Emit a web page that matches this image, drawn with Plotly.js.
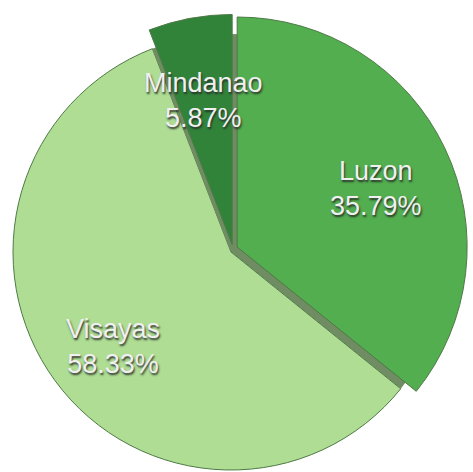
<!DOCTYPE html>
<html>
<head>
<meta charset="utf-8">
<script src="https://cdn.plot.ly/plotly-3.0.1.min.js"></script>
<style>html,body{margin:0;padding:0;background:#fff;overflow:hidden}#chart{position:absolute;left:-10px;top:0;width:493px;height:500px}</style>
</head>
<body>
<div id="chart"></div>
<script>
const regions = ["Luzon", "Visayas", "Mindanao"];
const shares = [35.79, 58.33, 5.87];
const sliceColors = ["#52ae4e", "#aedd93", "#31833a"];
const shadowColor = "#6f8c62";

// layout geometry (pixels in the 473x472 window)
const W = 493, H = 500, OFFX = 10;
const pulls = [0.02, 0, 0.02];
// Visayas drawn as a slightly smaller disc, Luzon + Mindanao as a slightly larger one
const discA = { cx: 231, cy: 252, r: 218, pull: 0, show: [false, true, false] };
const discB = { cx: 233, cy: 249, r: 230, pull: 0.02, show: [true, false, true] };
const labelFrac = 0.67;

function domainFor(d) {
  const half = d.r * (1 + d.pull);
  const x0 = d.cx + OFFX - half, x1 = d.cx + OFFX + half;
  const y0 = d.cy - half, y1 = d.cy + half;
  return { x: [x0 / W, x1 / W], y: [1 - y1 / H, 1 - y0 / H] };
}

function pieTrace(d, hiddenColor) {
  return {
    type: "pie",
    labels: regions,
    values: shares,
    textinfo: "none",
    sort: false,
    direction: "clockwise",
    rotation: 0,
    pull: d.show.map((s, i) => s ? Math.min(pulls[i], d.pull) : 0),
    domain: domainFor(d),
    marker: {
      colors: sliceColors.map((c, i) => d.show[i] ? c : hiddenColor),
      line: { color: "#4f7a47", width: d.show.map(s => s ? 1 : 0) }
    },
    hoverinfo: "none",
    showlegend: false
  };
}

const total = shares.reduce((a, b) => a + b, 0);
let cum = 0;
const annotations = regions.map((name, i) => {
  const frac = shares[i] / total;
  const mid = (cum + frac / 2) * 2 * Math.PI;
  cum += frac;
  const d = discA.show[i] ? discA : discB;
  const p = discA.show[i] ? 0 : pulls[i];
  const dist = (p + labelFrac) * d.r;
  const px = d.cx + OFFX + Math.sin(mid) * dist;
  const py = d.cy - Math.cos(mid) * dist;
  return {
    xref: "paper", yref: "paper",
    x: px / W, y: 1 - py / H,
    yshift: -8,
    xanchor: "center", yanchor: "middle",
    showarrow: false,
    text: name + "<br>" + shares[i].toFixed(2) + "%",
    font: { family: "Liberation Sans, Arial, sans-serif", size: 27, color: "#f0f0f0", shadow: "1px 2px 2px rgba(40,40,40,0.9)" }
  };
});

Plotly.newPlot("chart", [pieTrace(discA, shadowColor), pieTrace(discB, "rgba(0,0,0,0)")], {
  width: W, height: H,
  margin: { l: 0, r: 0, t: 0, b: 0 },
  showlegend: false,
  paper_bgcolor: "rgba(0,0,0,0)",
  annotations: annotations
}, { displayModeBar: false, staticPlot: true });
</script>
</body>
</html>
